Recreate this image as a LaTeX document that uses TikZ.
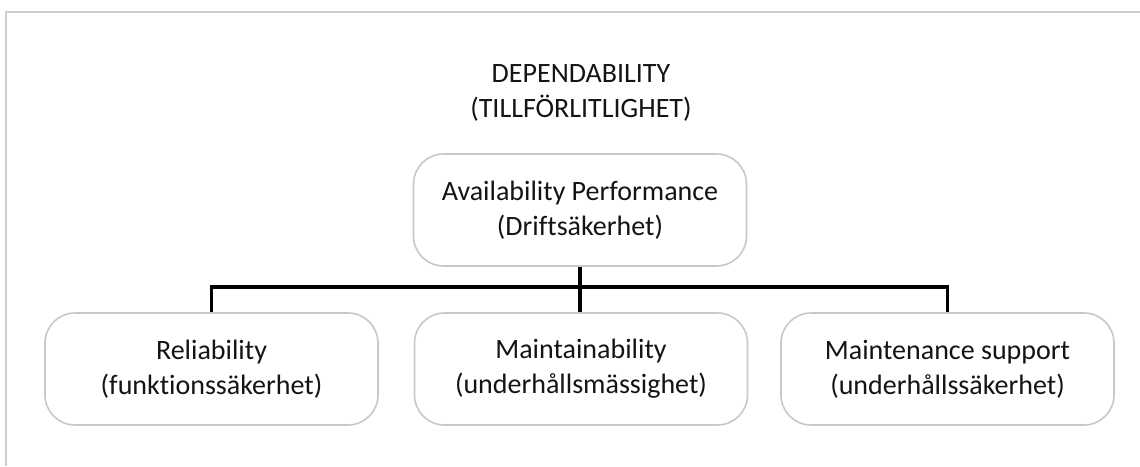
\documentclass[tikz,border=0pt]{standalone}
\usepackage{fontspec}
\setmainfont{Carlito}[Ligatures=NoCommon]
\definecolor{boxgray}{RGB}{200,200,200}
\definecolor{framegray}{RGB}{205,205,205}
\definecolor{txt}{RGB}{20,20,20}
\begin{document}
\begin{tikzpicture}[x=1pt,y=1pt,
  lbl/.style={align=center, text=txt, font=\fontsize{28}{35}\selectfont},
  box/.style={lbl, draw=boxgray, line width=1.6pt, rounded corners=30pt, minimum width=333pt, minimum height=112pt, inner sep=0pt},
  conn/.style={draw=black, line width=3.6pt}]
\useasboundingbox (0,0) rectangle (1140,-466);
\fill[white] (0,0) rectangle (1140,-466);
\draw[framegray, line width=2pt] (1140,-12) -- (6,-12) -- (6,-466);
\node[lbl] (title) at (581,-93) {DEPENDABILITY\\(TILLFÖRLITLIGHET)};
\node[box] (ap) at (580,-210) {Availability Performance\\(Driftsäkerhet)};
\node[box] (rel) at (211.5,-369) {Reliability\\(funktionssäkerhet)};
\node[box] (mt) at (581,-369) {Maintainability\\(underhållsmässighet)};
\node[box] (ms) at (947.5,-369) {Maintenance support\\(underhållssäkerhet)};
\coordinate (bus) at (580,-287);
\draw[conn] (ap.south) -- (ap.south |- mt.north);
\draw[conn] (rel.north) |- (bus) -| (ms.north);
\end{tikzpicture}
\end{document}
